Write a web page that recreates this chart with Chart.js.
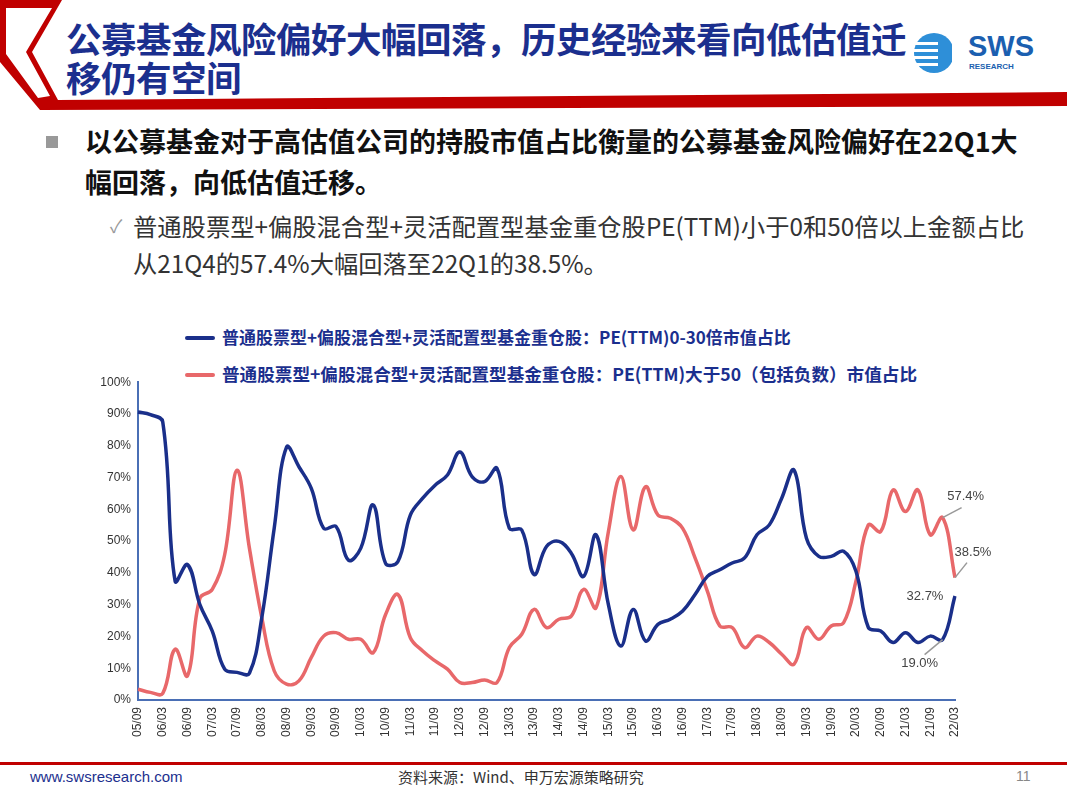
<!DOCTYPE html>
<html><head><meta charset="utf-8">
<script src="https://cdn.jsdelivr.net/npm/chart.js@4/dist/chart.umd.min.js"></script>
<style>
body{margin:0;width:1067px;height:800px;position:relative;background:#fff;font-family:"Noto Sans CJK SC",sans-serif;overflow:hidden}
.abs{position:absolute;white-space:nowrap}
#title{left:66px;top:18px;font-size:35.5px;font-weight:bold;color:#1B2F8E;line-height:39px;letter-spacing:-0.5px}
.b1{left:85px;top:120px;font-size:27px;font-weight:bold;color:#111;line-height:41px}
.b2{left:133px;top:207px;font-size:24.3px;color:#333;line-height:37px}
.leg{font-weight:bold;color:#1B2F8E;left:222px}
.legline{position:absolute;left:185px;width:30px;height:4px;border-radius:2px}
</style></head><body>
<svg class="abs" style="left:0;top:0" width="1067" height="115">
<polygon points="0,0 62,0 32,52 58,100 1067,92 1067,106 40,110 0,62" fill="#C00000"/>
<polygon points="6,8 52,8 26,52 50,96 38,98 6,54" fill="#fff"/>
</svg>
<div id="title" class="abs">公募基金风险偏好大幅回落，历史经验来看向低估值迁<br>移仍有空间</div>
<svg class="abs" style="left:912px;top:28px" width="40" height="50"><circle cx="22" cy="25" r="20" fill="#2E8FD8"/><g fill="#fff"><rect x="0" y="14" width="26" height="3"/><rect x="0" y="21" width="26" height="3"/><rect x="0" y="28" width="26" height="3"/><rect x="0" y="35" width="26" height="3"/></g></svg>
<div class="abs" style="left:968px;top:30px;font:bold 29px 'Liberation Sans';color:#1B5FB0">SWS</div>
<div class="abs" style="left:969px;top:62px;font:bold 8px 'Liberation Sans';color:#1B5FB0">RESEARCH</div>
<div class="abs" style="left:46px;top:136px;width:12px;height:12px;background:#999"></div>
<div class="abs b1">以公募基金对于高估值公司的持股市值占比衡量的公募基金风险偏好在22Q1大<br>幅回落，向低估值迁移。</div>
<div class="abs" style="left:110px;top:212px;font-size:18px;color:#999">✓</div>
<div class="abs b2">普通股票型+偏股混合型+灵活配置型基金重仓股PE(TTM)小于0和50倍以上金额占比<br>从21Q4的57.4%大幅回落至22Q1的38.5%。</div>
<div class="legline" style="top:336px;background:#1A2F8A"></div>
<div class="abs leg" style="top:324px;font-size:17px">普通股票型+偏股混合型+灵活配置型基金重仓股：PE(TTM)0-30倍市值占比</div>
<div class="legline" style="top:373px;background:#E8686A"></div>
<div class="abs leg" style="top:361px;font-size:17.6px">普通股票型+偏股混合型+灵活配置型基金重仓股：PE(TTM)大于50（包括负数）市值占比</div>
<div class="abs" style="left:88px;top:372px;width:975px;height:376px"><canvas id="c"></canvas></div>
<div class="abs" style="left:0;top:762px;width:1067px;height:3px;background:#C00000"></div>
<div class="abs" style="left:30px;top:768px;font:15px 'Liberation Sans';color:#1B2F8E">www.swsresearch.com</div>
<div class="abs" style="left:398px;top:766px;font-size:15px;color:#333">资料来源：Wind、申万宏源策略研究</div>
<div class="abs" style="left:1016px;top:768px;font:14px 'Liberation Sans';color:#888">11</div>
<script>
var startYear = 2005;
var quarters = [];
for (var i = 0; i < 67; i++) {
  var q = i + 2; // 05/09 is Q3
  var y = startYear + Math.floor(q / 4);
  var m = ["03", "06", "09", "12"][q % 4];
  quarters.push(String(y).slice(2) + "/" + m);
}
var lowPE = [90.6,89.8,87.5,37.4,42.6,30,21.7,9.7,8.7,8.4,25.9,54,79.6,73.4,66.6,54,54.6,44,47.8,61.4,43,43.6,58.2,63.5,67.6,70.8,78,70.2,68.7,72.9,54,53.5,
  39.5,48.3,49.9,46.2,38.9,52,30,17,28.5,18.6,23.8,25.4,28,33.2,38.9,41,43.1,44.7,52,55.1,63.5,72.3,50.9,45.2,45.2,46.8,40.5,22.8,21.7,18.1,21.2,18.1,20.1,19.0,32.7];
var highPE = [3.4,2.4,2.1,16,7.6,32,34.8,45.7,72.3,47.8,25.9,9.2,5,6,13.4,20.1,21.2,19.1,19.1,14.9,26.9,33.2,19.6,15.4,12.3,9.7,5.5,5.5,6.3,5.5,16.5,20.7,
  28.5,22.8,25.4,26.4,34.8,29,53,70.3,53.5,67.1,58.2,57.2,54,44.7,34.2,23.3,22.8,16.5,20.1,18.1,14.4,11.3,22.8,19.1,23.3,24.3,37.4,55.1,53,66.1,59.3,66.1,52,57.4,38.5];
// value labels: [series, index, text, text dx, text dy, leader end dx, leader end dy]
var callouts = [[1,65,"57.4%",23,-21,19,-10],[1,66,"38.5%",18,-25,12,-15],[0,66,"32.7%",-30,0,null],[0,65,"19.0%",-23,24,-18,15]];

var calloutPlugin = {
  id: "callouts",
  afterDatasetsDraw: function (chart) {
    var ctx = chart.ctx;
    ctx.save();
    ctx.font = "13px 'Liberation Sans'";
    ctx.fillStyle = "#444";
    ctx.strokeStyle = "#999";
    ctx.lineWidth = 1.5;
    callouts.forEach(function (c) {
      var data = c[0] ? highPE : lowPE;
      var x = chart.scales.x.getPixelForValue(c[1]);
      var y = chart.scales.y.getPixelForValue(data[c[1]]);
      if (c[5] != null) {
        ctx.beginPath(); ctx.moveTo(x, y); ctx.lineTo(x + c[5], y + c[6]); ctx.stroke();
      }
      ctx.textAlign = "center"; ctx.textBaseline = "middle";
      ctx.fillText(c[2], x + c[3], y + c[4]);
    });
    ctx.restore();
  }
};

new Chart(document.getElementById("c"), {
  type: "line",
  data: {
    labels: quarters,
    datasets: [
      { data: lowPE, borderColor: "#1A2F8A", borderWidth: 3.5, pointRadius: 0, tension: 0.4 },
      { data: highPE, borderColor: "#E8686A", borderWidth: 3.5, pointRadius: 0, tension: 0.4 }
    ]
  },
  options: {
    responsive: true, maintainAspectRatio: false, animation: false,
    layout: { padding: { top: 9, right: 108 } },
    plugins: { legend: { display: false }, tooltip: { enabled: false } },
    scales: {
      x: {
        offset: false,
        grid: { display: false, drawTicks: true, tickLength: 4, color: "#4A6FB5" },
        border: { color: "#4A6FB5", width: 2 },
        ticks: {
          autoSkip: false, maxRotation: 90, minRotation: 90, color: "#333",
          font: { family: "Liberation Sans", size: 12 },
          callback: function (v, i) { return i % 2 == 0 ? quarters[i] : null; }
        },
        afterFit: function (s) { s.height = 48; }
      },
      y: {
        min: 0, max: 100,
        grid: { display: false, drawTicks: true, tickLength: 4 },
        border: { color: "#4A6FB5", width: 2 },
        ticks: { stepSize: 10, color: "#333", font: { family: "Liberation Sans", size: 12 },
          callback: function (v) { return v + "%"; } },
        afterFit: function (s) { s.width = 50; }
      }
    }
  },
  plugins: [calloutPlugin]
});
</script>
</body></html>
